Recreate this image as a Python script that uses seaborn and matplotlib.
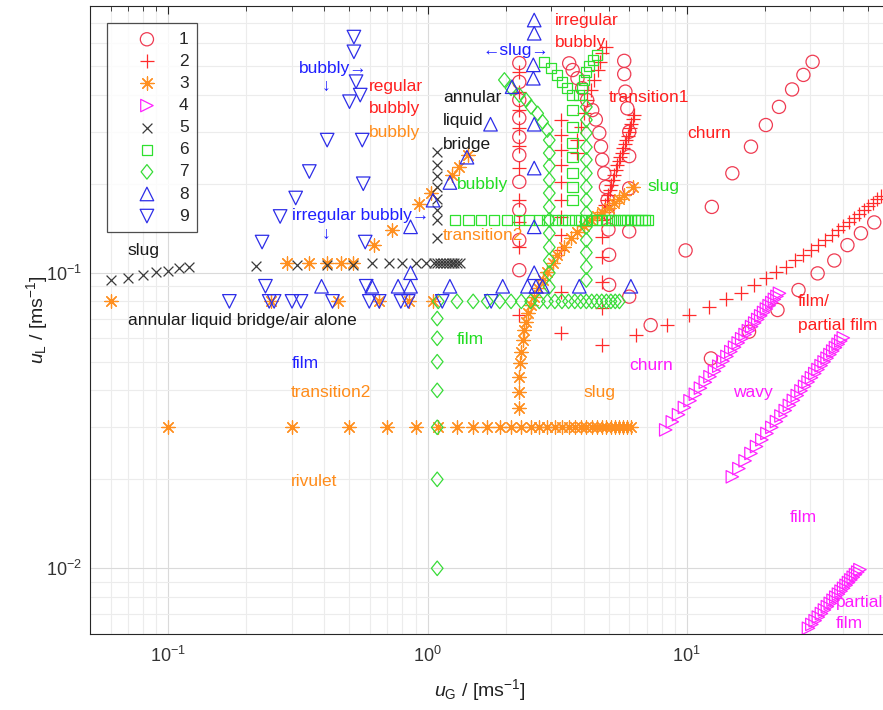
import numpy as np
import matplotlib
matplotlib.use("Agg")
import matplotlib.pyplot as plt
from matplotlib.path import Path
from matplotlib.ticker import LogLocator, NullFormatter, FixedLocator, FixedFormatter
import seaborn as sns

# ---------------- data ----------------
s1_x = [2.26, 2.26, 2.26, 2.26, 2.26, 2.26, 2.26, 2.26, 2.26, 2.26,
        3.52, 3.63, 3.79, 3.95, 4.13, 4.32, 4.46, 4.60, 4.67, 4.72, 4.81, 4.88, 4.95, 4.95, 4.99, 5.02, 5.02,
        5.74, 5.74, 5.80, 5.90, 6.00, 6.00, 6.00, 6.00, 6.00,
        7.26,
        9.9, 12.5, 15.0, 17.7, 20.2, 22.7, 25.5, 28.2, 30.6,
        12.4, 17.4, 22.4, 27.0, 32.0, 37.1, 41.7, 47.0, 52.9]
s1_y = [0.512, 0.442, 0.384, 0.334, 0.288, 0.250, 0.203, 0.163, 0.129, 0.102,
        0.511, 0.485, 0.455, 0.421, 0.384, 0.355, 0.330, 0.297, 0.267, 0.241, 0.217, 0.195, 0.176, 0.159, 0.140, 0.115, 0.091,
        0.521, 0.470, 0.410, 0.360, 0.300, 0.248, 0.193, 0.138, 0.083,
        0.0665,
        0.119, 0.167, 0.217, 0.267, 0.316, 0.364, 0.417, 0.467, 0.517,
        0.0513, 0.0632, 0.0748, 0.0874, 0.0995, 0.110, 0.124, 0.136, 0.148]

s2_x = [2.26, 2.26, 2.26, 2.26, 2.26, 2.26, 2.26, 2.26, 2.26, 2.26,
        3.28, 3.28, 3.28, 3.28, 3.28, 3.28, 3.28, 3.28, 3.28, 3.28, 3.28,
        4.88, 4.73, 4.63, 4.53, 4.40, 4.27, 4.14, 4.02, 3.91, 3.79, 3.79,
        4.73, 4.73, 4.73, 4.73, 4.73, 4.73, 4.79, 4.85, 4.91, 4.98, 5.04, 5.11, 5.18, 5.25, 5.32,
        5.39, 5.46, 5.54, 5.61, 5.69, 5.76, 5.84, 5.92, 6.00, 6.05, 6.10, 6.18, 6.27,
        6.37, 8.43, 10.2, 12.2, 14.2, 16.2, 18.2, 20.2, 22.2, 24.2, 26.2, 28.2, 30.2,
        32.2, 34.2, 36.2, 38.2, 40.2, 42.2, 44.2, 46.2, 48.2, 50.2, 52.2, 54.2, 56.2]
s2_y = [0.478, 0.409, 0.355, 0.309, 0.268, 0.226, 0.176, 0.148, 0.122, 0.0719,
        0.3295, 0.293, 0.260, 0.231, 0.203, 0.176, 0.154, 0.134, 0.119, 0.086, 0.0625,
        0.582, 0.553, 0.517, 0.485, 0.449, 0.415, 0.384, 0.347, 0.312, 0.281, 0.254,
        0.0569, 0.076, 0.093, 0.113, 0.132, 0.151, 0.160, 0.169, 0.176, 0.183, 0.190, 0.198, 0.206, 0.214, 0.222,
        0.231, 0.238, 0.246, 0.255, 0.264, 0.272, 0.281, 0.290, 0.2995, 0.309, 0.319, 0.330, 0.342,
        0.0615, 0.0665, 0.0719, 0.0763, 0.0813, 0.0856, 0.0909, 0.0957, 0.1008, 0.1048, 0.1104, 0.1148, 0.1194,
        0.124, 0.129, 0.134, 0.139, 0.144, 0.148, 0.153, 0.158, 0.163, 0.168, 0.172, 0.177, 0.182]

s3_x = [0.06, 0.25, 0.45, 0.65, 0.85, 1.05,
        0.1, 0.3, 0.5, 0.7, 0.9, 1.1, 1.3, 1.5, 1.7, 1.9, 2.1, 2.3, 2.5, 2.7, 2.9, 3.1, 3.3, 3.5, 3.7,
        3.9, 4.1, 4.3, 4.5, 4.7, 4.9, 5.1, 5.3, 5.5, 5.7, 5.9, 6.1,
        0.288, 0.348, 0.408, 0.463, 0.514,
        0.623, 0.729, 0.929, 1.033, 1.242, 1.325, 1.427,
        2.26, 2.26, 2.26, 2.27, 2.29, 2.33, 2.36, 2.40, 2.45, 2.51, 2.58, 2.68, 2.78, 2.90,
        3.04, 3.17, 3.37, 3.57, 3.79, 4.00, 4.27, 4.50, 4.73, 5.00, 5.25, 5.50, 5.74, 6.18]
s3_y = [0.08, 0.08, 0.08, 0.08, 0.08, 0.08,
        0.03, 0.03, 0.03, 0.03, 0.03, 0.03, 0.03, 0.03, 0.03, 0.03, 0.03, 0.03, 0.03, 0.03, 0.03, 0.03,
        0.03, 0.03, 0.03, 0.03, 0.03, 0.03, 0.03, 0.03, 0.03, 0.03, 0.03, 0.03, 0.03, 0.03, 0.03,
        0.108, 0.108, 0.108, 0.108, 0.108,
        0.124, 0.1395, 0.1706, 0.186, 0.214, 0.2285, 0.250,
        0.0348, 0.0394, 0.0445, 0.0494, 0.054, 0.0592, 0.064, 0.0683, 0.0729, 0.0778, 0.083, 0.0886, 0.0945, 0.1008,
        0.1076, 0.1148, 0.1225, 0.1307, 0.1377, 0.144, 0.151, 0.156, 0.161, 0.166, 0.172, 0.178, 0.183, 0.195]

s4_x = [8.3, 8.8, 9.3, 9.8, 10.3, 10.8, 11.3, 11.8, 12.3, 12.8, 13.3, 13.8, 14.3, 14.8, 15.3,
        15.8, 16.3, 16.8, 17.3, 17.8, 18.3, 18.8, 19.3, 19.8, 20.3, 20.8, 21.3, 21.8, 22.3, 22.8,
        15.0, 15.9, 16.8, 17.7, 18.6, 19.5, 20.4, 21.3, 22.2, 23.1, 24.0, 24.9, 25.8, 26.7, 27.6,
        28.5, 29.4, 30.3, 31.2, 32.1, 33.0, 33.9, 34.8, 35.7, 36.6, 37.5, 38.4, 39.3, 40.2,
        29.5, 30.4, 31.3, 32.2, 33.1, 34.0, 34.9, 35.8, 36.7, 37.6, 38.5, 39.4, 40.3, 41.2,
        42.1, 43.0, 43.9, 44.8, 45.7, 46.6]
s4_y = [0.0294, 0.0313, 0.0331, 0.0350, 0.0369, 0.0388, 0.0407, 0.0426, 0.0445, 0.0464, 0.0483, 0.0502,
        0.0521, 0.0541, 0.0560, 0.0579, 0.0598, 0.0618, 0.0637, 0.0657, 0.0676, 0.0695, 0.0715, 0.0734,
        0.0754, 0.0774, 0.0793, 0.0813, 0.0832, 0.0852,
        0.0204, 0.02175, 0.0231, 0.02447, 0.02583, 0.02721, 0.02859, 0.02998, 0.03137, 0.03277, 0.03418,
        0.03559, 0.0370, 0.03842, 0.03985, 0.04128, 0.04271, 0.04415, 0.04559, 0.04704, 0.04849, 0.04994,
        0.0514, 0.05286, 0.05433, 0.05579, 0.05727, 0.05874, 0.06022,
        0.00627, 0.00646, 0.00665, 0.00684, 0.00703, 0.00723, 0.00742, 0.00761, 0.0078, 0.00799,
        0.00818, 0.00837, 0.00856, 0.00876, 0.00895, 0.00914, 0.00933, 0.00952, 0.00971, 0.0099]

s5_x = [0.06, 0.07, 0.08, 0.09, 0.10, 0.11, 0.12,
        0.217, 0.315, 0.411, 0.514, 0.610, 0.71, 0.80, 0.90, 0.99, 1.06, 1.09, 1.12, 1.15, 1.18,
        1.21, 1.24, 1.27, 1.30, 1.33,
        1.09, 1.09, 1.09, 1.09, 1.09, 1.09, 1.09, 1.09]
s5_y = [0.0945, 0.0962, 0.0982, 0.1003, 0.1016, 0.1035, 0.1048,
        0.1053, 0.1062, 0.1062, 0.1062, 0.1076, 0.1076, 0.108, 0.108, 0.108, 0.108, 0.108, 0.108, 0.108,
        0.108, 0.108, 0.108, 0.108, 0.108, 0.108,
        0.131, 0.151, 0.163, 0.178, 0.195, 0.212, 0.231, 0.256]

s6_x = [1.28, 1.44, 1.61, 1.81, 2.03, 2.26, 2.47, 2.7, 2.9, 3.1, 3.3, 3.5, 3.7, 3.9, 4.1, 4.3, 4.5,
        4.7, 4.9, 5.1, 5.3, 5.5, 5.7, 5.9, 6.1, 6.3, 6.5, 6.7, 6.9, 7.1,
        3.63, 3.63, 3.63, 3.63, 3.63, 3.63, 3.63, 3.63,
        2.82, 3.0, 3.16, 3.31, 3.46,
        4.52, 4.36, 4.21, 4.10, 4.02, 3.95, 3.85]
s6_y = [0.151, 0.151, 0.151, 0.151, 0.151, 0.151, 0.151, 0.151, 0.151, 0.151, 0.151, 0.151, 0.151,
        0.151, 0.151, 0.151, 0.151, 0.151, 0.151, 0.151, 0.151, 0.151, 0.151, 0.151, 0.151, 0.151,
        0.151, 0.151, 0.151, 0.151,
        0.176, 0.195, 0.217, 0.247, 0.274, 0.312, 0.355, 0.399,
        0.516, 0.493, 0.467, 0.442, 0.421,
        0.545, 0.524, 0.500, 0.477, 0.449, 0.421, 0.399]

s7_x = [1.09, 1.09, 1.09, 1.09, 1.09, 1.09, 1.09,
        1.1, 1.3, 1.5, 1.7, 1.9, 2.1, 2.3, 2.5, 2.7, 2.9, 3.1, 3.3, 3.5, 3.7, 3.9, 4.1, 4.3, 4.5,
        4.7, 4.9, 5.1, 5.3, 5.5,
        1.98, 2.10, 2.26, 2.40, 2.51, 2.66, 2.78, 2.90,
        2.95, 2.95, 2.95, 2.95, 2.95, 2.95, 2.95, 2.95, 2.95, 2.95, 2.95, 2.95,
        4.1, 4.1, 4.1, 4.1, 4.1, 4.1, 4.1, 4.1, 4.1, 4.1, 4.1, 4.1, 4.1, 4.1]
s7_y = [0.01, 0.02, 0.03, 0.04, 0.05, 0.06, 0.07,
        0.08, 0.08, 0.08, 0.08, 0.08, 0.08, 0.08, 0.08, 0.08, 0.08, 0.08, 0.08, 0.08, 0.08, 0.08, 0.08,
        0.08, 0.08, 0.08, 0.08, 0.08, 0.08, 0.08,
        0.449, 0.421, 0.399, 0.384, 0.364, 0.346, 0.324, 0.304,
        0.281, 0.254, 0.230, 0.206, 0.186, 0.167, 0.151, 0.136, 0.122, 0.110, 0.0998, 0.0895,
        0.364, 0.329, 0.297, 0.266, 0.241, 0.217, 0.195, 0.176, 0.159, 0.143, 0.129, 0.117, 0.1045, 0.0945]

s8_x = [2.58, 2.58, 2.56, 2.56, 2.12, 1.75, 2.58, 2.58, 1.42, 1.22, 1.05, 0.86, 2.58, 0.86, 2.58,
        0.39, 0.61, 0.77, 0.86, 1.22, 1.95, 2.43, 2.62, 2.78, 3.85, 6.09]
s8_y = [0.716, 0.646, 0.505, 0.455, 0.426, 0.318, 0.318, 0.226, 0.246, 0.202, 0.176, 0.143, 0.143, 0.10, 0.10,
        0.09, 0.09, 0.09, 0.09, 0.09, 0.09, 0.09, 0.09, 0.09, 0.09, 0.09]

s9_x = [0.52, 0.52, 0.53, 0.55, 0.50, 0.41, 0.56, 0.35, 0.565, 0.31, 0.27, 0.23, 0.575, 0.237, 0.58,
        0.172, 0.245, 0.256, 0.30, 0.325, 0.43, 0.596, 0.651, 0.789, 0.843, 1.14, 1.76]
s9_y = [0.627, 0.559, 0.443, 0.399, 0.379, 0.281, 0.281, 0.220, 0.200, 0.179, 0.155, 0.127, 0.127, 0.09, 0.09,
        0.08, 0.08, 0.08, 0.08, 0.08, 0.08, 0.08, 0.08, 0.08, 0.08, 0.08, 0.08]

series_labels = ["1", "2", "3", "4", "5", "6", "7", "8", "9"]

x_ticks = [0.1, 1, 10]
x_tick_labels = [r"$10^{-1}$", r"$10^{0}$", r"$10^{1}$"]
y_ticks = [0.01, 0.1]
y_tick_labels = [r"$10^{-2}$", r"$10^{-1}$"]

# ---------------- style ----------------
sns.set_style("white")
plt.rcParams["font.family"] = ["Liberation Sans", "DejaVu Sans"]
plt.rcParams["mathtext.fontset"] = "custom"
plt.rcParams["mathtext.rm"] = "Liberation Sans"
plt.rcParams["mathtext.it"] = "Liberation Sans:italic"
plt.rcParams["mathtext.bf"] = "Liberation Sans:bold"

W, H = 883, 710
fig = plt.figure(figsize=(W / 100, H / 100), dpi=100)
ax_left, ax_right, ax_top, ax_bot = 90.3, 945.9, 5.8, 633.9
ax = fig.add_axes([ax_left / W, 1 - ax_bot / H, (ax_right - ax_left) / W, (ax_bot - ax_top) / H])

asterisk = (8, 2, 0)
diamond = Path([(0, 1), (0.8, 0), (0, -1), (-0.8, 0), (0, 1)],
               [Path.MOVETO, Path.LINETO, Path.LINETO, Path.LINETO, Path.CLOSEPOLY])

specs = [
    (s1_x, s1_y, "o", "#ef3b52", True, 90),
    (s2_x, s2_y, "+", "#ff2b2b", False, 110),
    (s3_x, s3_y, asterisk, "#ff8f1f", False, 90),
    (s4_x, s4_y, ">", "#ff22ff", True, 80),
    (s5_x, s5_y, "x", "#3a3a3a", False, 50),
    (s6_x, s6_y, "s", "#2fe02f", True, 55),
    (s7_x, s7_y, diamond, "#38dc38", True, 110),
    (s8_x, s8_y, "^", "#2d2de8", True, 95),
    (s9_x, s9_y, "v", "#2d2de8", True, 95),
]

for lab, (xs, ys, m, c, hollow, s) in zip(series_labels, specs):
    if hollow:
        sns.scatterplot(x=xs, y=ys, ax=ax, marker=m, s=s, facecolor="none",
                        edgecolor=c, linewidth=0.9, label=lab, zorder=3)
    else:
        sns.scatterplot(x=xs, y=ys, ax=ax, marker=m, s=s, color=c,
                        linewidth=0.9, label=lab, zorder=3)

ax.set_xscale("log")
ax.set_yscale("log")
ax.set_xlim(0.05, 100)
ax.set_ylim(0.006, 0.8)

ax.xaxis.set_major_locator(FixedLocator(x_ticks))
ax.xaxis.set_major_formatter(FixedFormatter(x_tick_labels))
ax.yaxis.set_major_locator(FixedLocator(y_ticks))
ax.yaxis.set_major_formatter(FixedFormatter(y_tick_labels))
for axis in (ax.xaxis, ax.yaxis):
    axis.set_minor_locator(LogLocator(base=10, subs=np.arange(2, 10), numticks=100))
    axis.set_minor_formatter(NullFormatter())

ax.grid(True, which="major", color="#dadada", linewidth=0.8)
ax.grid(True, which="minor", color="#ececec", linewidth=0.8)
ax.set_axisbelow(True)

ax.tick_params(which="both", direction="in", top=True, right=True, color="#262626",
               labelcolor="#333333", labelsize=13)
ax.tick_params(which="major", length=6, width=0.8)
ax.tick_params(which="minor", length=3.5, width=0.6)
ax.tick_params(axis="x", pad=9)
ax.tick_params(axis="y", pad=6)
for sp in ax.spines.values():
    sp.set_color("#262626")
    sp.set_linewidth(0.8)

ax.set_xlabel(r"$u_{\mathrm{G}}$ / [ms$^{-1}$]", fontsize=14, color="#222222")
ax.set_ylabel(r"$u_{\mathrm{L}}$ / [ms$^{-1}$]", fontsize=14, color="#222222")
ax.xaxis.set_label_coords(0.4555, -0.068)
ax.yaxis.set_label_coords(-0.047, 0.5)

leg = ax.legend(loc="upper left", bbox_to_anchor=((107 - ax_left) / (ax_right - ax_left),
                                                   (ax_bot - 23) / (ax_bot - ax_top)),
                borderaxespad=0, fontsize=12.5, frameon=True, fancybox=False,
                edgecolor="#222222", borderpad=0.5, handlelength=3.6, handletextpad=0.05,
                labelspacing=0.4, scatterpoints=1)
leg.get_frame().set_linewidth(0.9)

# ---------------- annotations ----------------
BLUE, RED, ORANGE, GREEN, MAG, BLACK = "#1f1fff", "#ff1f1f", "#ff8c1a", "#22dd22", "#ff1aff", "#1a1a1a"
notes = [
    ("bubbly\u2192", 299, 68, BLUE), ("\u2193", 322, 86, BLUE),
    ("regular", 369, 86, RED), ("bubbly", 369, 108, RED), ("bubbly", 369, 133, ORANGE),
    ("annular", 443, 98, BLACK), ("liquid", 443, 121, BLACK), ("bridge", 443, 144, BLACK),
    ("\u2190slug\u2192", 482, 50, BLUE),
    ("irregular", 555, 21, RED), ("bubbly", 555, 43, RED),
    ("transition1", 609, 97, RED), ("churn", 687, 133, RED),
    ("slug", 647, 186, GREEN), ("bubbly", 457, 185, GREEN),
    ("transition2", 443, 235, ORANGE),
    ("irregular bubbly\u2192", 292, 215, BLUE), ("\u2193", 322, 234, BLUE),
    ("slug", 127, 251, BLACK), ("annular liquid bridge/air alone", 128, 320, BLACK),
    ("film", 292, 364, BLUE), ("transition2", 291, 392, ORANGE),
    ("film", 457, 339, GREEN), ("churn", 629, 365, MAG), ("slug", 583, 393, ORANGE),
    ("rivulet", 291, 482, ORANGE), ("wavy", 733, 393, MAG),
    ("film/", 798, 302, RED), ("partial film", 798, 325, RED),
    ("film", 790, 518, MAG), ("partial", 836, 602, MAG), ("film", 836, 623, MAG),
]
for txt, px, py, col in notes:
    fig.text(px / W, 1 - py / H, txt, color=col, fontsize=12.5, ha="left", va="center", zorder=5)

fig.savefig("out.png", dpi=100, facecolor="white")
